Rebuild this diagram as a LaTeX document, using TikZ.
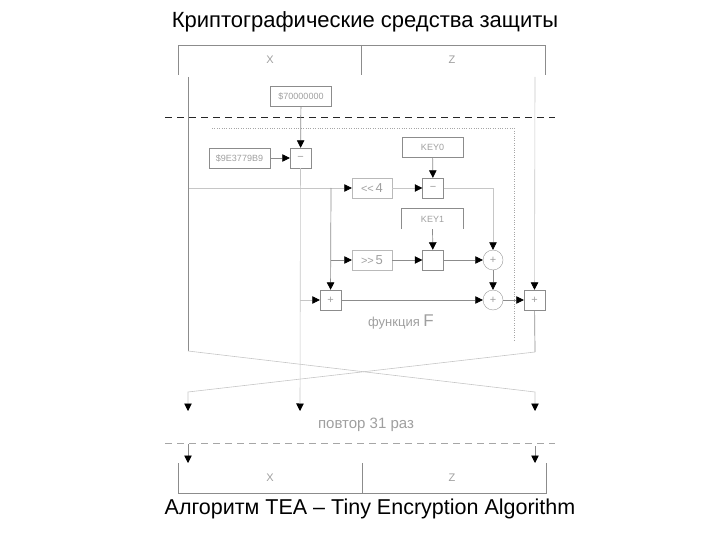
\documentclass[tikz,border=0pt]{standalone}
\usepackage{fontspec}
\setmainfont{Liberation Sans}
\usetikzlibrary{arrows.meta,positioning}

\begin{document}
\begin{tikzpicture}[x=1pt, y=-1pt,
    lbl/.style={text=gray!75, font=\fontsize{9}{10}\selectfont},
    blk/.style={draw=#1, lbl, minimum width=61pt, minimum height=20pt, inner sep=0pt},
    blk/.default=gray!90,
    sh/.style={draw=gray!55, lbl, font=\fontsize{11}{12}\selectfont, minimum width=40pt, minimum height=20pt, inner sep=0pt},
    op/.style={draw=#1, lbl, font=\fontsize{11}{12}\selectfont, minimum width=21pt, minimum height=20pt, inner sep=0pt},
    op/.default=gray!90,
    xr/.style={draw=gray!80, circle, lbl, font=\fontsize{11}{12}\selectfont, minimum size=20pt, inner sep=0pt},
    dk/.style={draw=gray!90, line width=0.7pt},
    lt/.style={draw=gray!45, line width=0.6pt},
    arr/.style={-{Triangle[length=7.5pt, width=7.5pt, color=black]}}
]
\useasboundingbox (0,0) rectangle (720,540);

% Titles
\node (title) at (365,22) {\fontsize{22}{26}\selectfont Криптографические средства защиты};
\node (caption) at (370,509) {\fontsize{21.5}{26}\selectfont Алгоритм TEA -- Tiny Encryption Algorithm};

% Input register
\draw[dk] (178,75) |- (545,45) -- (545,75);
\draw[dk] (361,45) -- (361,75);
\node[lbl, font=\fontsize{11}{12}\selectfont] (xin) at (270,60) {X};
\node[lbl, font=\fontsize{11}{12}\selectfont] (zin) at (452,60) {Z};
\coordinate (xtop) at (188,77);
\coordinate (ztop) at (535,77);

% Round separators
\draw[dashed, dash pattern=on 7pt off 5pt, black!85, line width=0.7pt] (165,117) -- (555,117);
\draw[dashed, dash pattern=on 7pt off 5pt, gray!70, line width=0.7pt] (165,443) -- (555,443);
\draw[dotted, gray!70] (212,128) -- (514,128) -- (514,340);

% Sum update
\node[blk] (c70) at (301,96) {\$70000000};
\node[blk] (delta) at (239.5,158) {\$9E3779B9};
\node[op] (sub) at (300.5,158) {−};

% Function F
\node[sh] (shl) at (372,188) {{<}{<}\,\fontsize{13}{13}\selectfont 4};
\node[sh] (shr) at (372,260) {{>}{>}\,\fontsize{13}{13}\selectfont 5};
\node[blk] (key0) at (432.5,147) {KEY0};
\node[lbl, minimum width=61pt, minimum height=20pt] (key1) at (432.5,219) {KEY1};
\draw[dk] (key1.south west) |- (key1.north east) -- (key1.south east);
\node[op] (addk0) at (433,188) {−};
\node[op] (addk1) at (433,260) {};
\node[xr] (xor1) at (493,260) {+};
\node[xr] (xor2) at (493,300) {+};
\node[op] (adds) at (330.5,300) {+};
\node[op] (addz) at (534.5,300) {+};
\node[lbl, font=\fontsize{13}{14}\selectfont] (fname) at (401,322) {функция \fontsize{17}{17}\selectfont F};

\coordinate (zsplit) at (188,188);
\coordinate (zdown) at (331,188);
\coordinate (zright) at (331,260);
\coordinate (stap) at (300,300);

% Connectors
\draw[dk, arr] (c70) -- (sub);
\draw[dk, arr] (delta) -- (sub);
\draw[lt, arr] (zsplit) -- (shl);
\draw[dk, arr] (zdown) -- (adds);
\draw[dk, arr] (zright) -- (shr);
\draw[lt, arr] (stap) -- (adds);
\draw[lt, arr] (shl) -- (addk0);
\draw[dk, arr] (key0) -- (addk0);
\draw[lt, arr] (addk0) -| (xor1);
\draw[dk, arr] (key1.south) -- (addk1);
\draw[dk, arr] (shr) -- (addk1);
\draw[dk, arr] (addk1) -- (xor1);
\draw[dk, arr] (xor1) -- (xor2);
\draw[dk, arr] (adds) -- (xor2);
\draw[dk, arr] (xor2) -- (addz);
\draw[lt, arr] (ztop) -- (addz);

% Swap of halves
\coordinate (xbot) at (188,411);
\coordinate (sbot) at (300,411);
\coordinate (zbot) at (535,411);
\draw[lt, arr] (sub) -- (sbot);
\draw[dk] (xtop) -- (188,351);
\draw[lt, arr] (188,351) -- (535,392) -- (zbot);
\draw[dk] (addz) -- (535,352);
\draw[lt, arr] (535,352) -- (188,392) -- (xbot);
\node[lbl, font=\fontsize{15}{16}\selectfont] (rep) at (366,425) {повтор 31 раз};

% Output register
\coordinate (xo) at (188,444);
\coordinate (zo) at (535,446);
\draw[dk, arr] (xo) -- (188,463);
\draw[dk, arr] (zo) -- (535,463);
\draw[dk] (178,463) |- (546,493) -- (546,463);
\draw[dk] (362,463) -- (362,493);
\node[lbl, font=\fontsize{11}{12}\selectfont] (xout) at (270,478) {X};
\node[lbl, font=\fontsize{11}{12}\selectfont] (zout) at (452,478) {Z};
\end{tikzpicture}
\end{document}
